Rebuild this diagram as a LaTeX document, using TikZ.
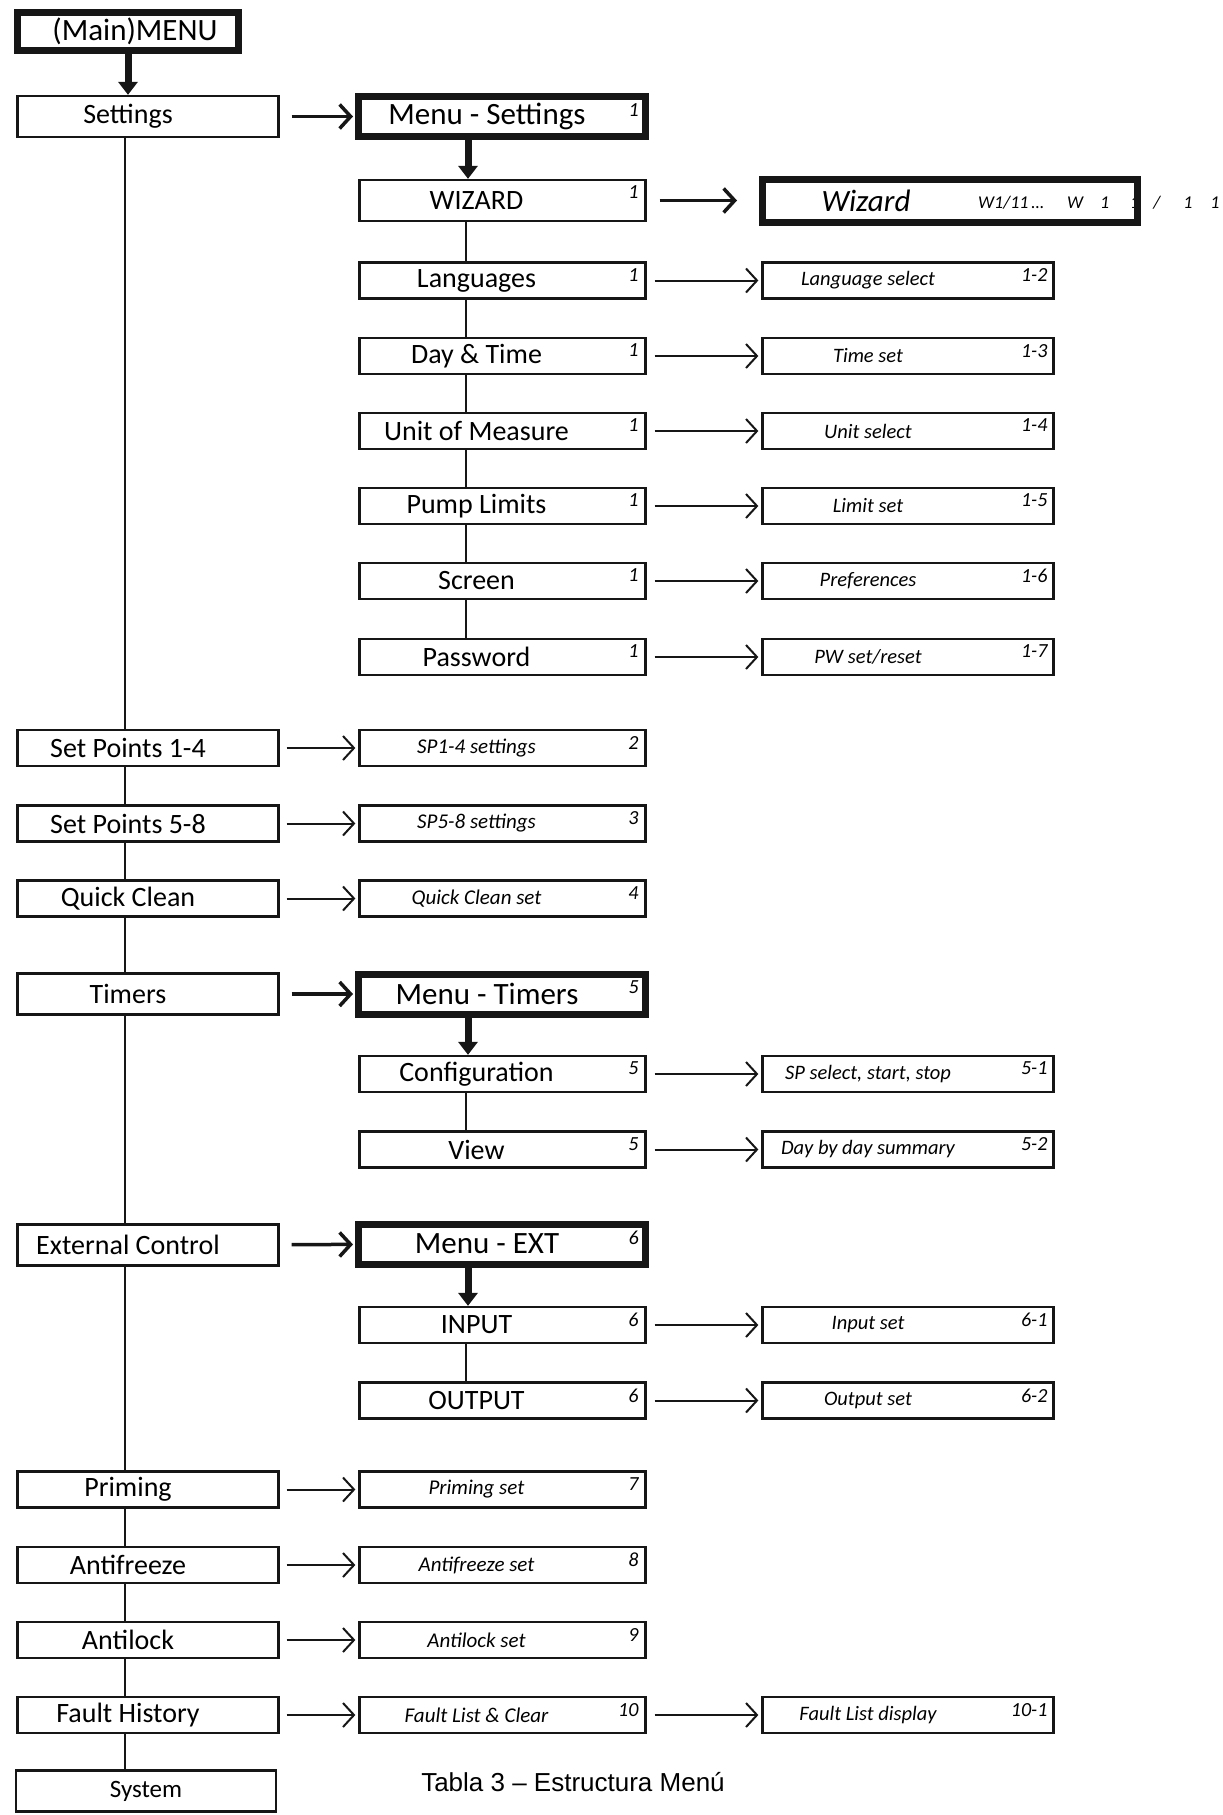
\documentclass[tikz,border=0pt]{standalone}
\usepackage{fontspec}
\setmainfont{Carlito}
\newfontfamily\capfont{Liberation Sans}
\usetikzlibrary{arrows.meta}
\definecolor{boxline}{RGB}{22,22,22}
\tikzset{
  lbox/.style  ={draw=boxline, line width=2.3pt, minimum width=261pt, minimum height=36pt, inner sep=0pt,
                 font=\fontsize{28}{30}\selectfont, execute at end node=\hspace*{40pt}},
  tall/.style  ={minimum height=41pt},
  mbox/.style  ={draw=boxline, line width=2.3pt, minimum width=286pt, minimum height=36pt, inner sep=0pt,
                 font=\fontsize{28}{30}\selectfont, execute at end node=\hspace*{52pt}},
  mibox/.style ={draw=boxline, line width=2.3pt, minimum width=286pt, minimum height=36pt, inner sep=0pt,
                 font=\itshape\fontsize{21}{24}\selectfont, execute at end node=\hspace*{52pt}},
  tbox/.style  ={draw=boxline, line width=7pt, minimum width=287pt, minimum height=40pt, inner sep=0pt,
                 font=\fontsize{31}{33}\selectfont, execute at end node=\hspace*{30pt}},
  rbox/.style  ={draw=boxline, line width=2.3pt, minimum width=291pt, minimum height=36pt, inner sep=0pt,
                 font=\itshape\fontsize{20.5}{24}\selectfont, execute at end node=\hspace*{80pt}},
  topbox/.style={draw=boxline, line width=7pt, minimum width=221pt, minimum height=38pt, inner sep=0pt,
                 font=\fontsize{31}{33}\selectfont, execute at begin node=\hspace*{14pt}},
  wbox/.style  ={draw=boxline, line width=7pt, minimum width=375pt, minimum height=43pt, inner sep=0pt,
                 font=\itshape\fontsize{31}{33}\selectfont, execute at end node=\hspace*{168pt}},
  sysbox/.style={draw=boxline, line width=2.3pt, minimum width=260pt, minimum height=41pt, inner sep=0pt,
                 font=\fontsize{25}{28}\selectfont},
  numl/.style  ={anchor=north east, inner sep=0pt, font=\itshape\fontsize{20}{20}\selectfont},
  vline/.style ={draw=boxline, line width=2pt},
  thn/.style   ={draw=boxline, line width=2pt, shorten <=7pt, shorten >=3pt,
                 -{Straight Barb[length=11pt,width=24pt]}},
  thk/.style   ={draw=boxline, line width=3.5pt, shorten <=12pt, shorten >=2pt,
                 -{Straight Barb[length=11pt,width=24pt]}},
  down/.style  ={draw=boxline, line width=7pt, -{Triangle[length=13pt,width=19pt]}},
}
\begin{document}
\begin{tikzpicture}[x=1pt,y=-1pt]
  \useasboundingbox (0,0) rectangle (1223,1815);
  % left column
  \node[topbox] (menu) at (128,31.5) {(Main)MENU};
  \node[lbox,tall] (set) at (148,116.5) {Settings};
  \node[lbox] (sp14) at (148,748) {Set Points 1-4};
  \node[lbox] (sp58) at (148,823.5) {Set Points 5-8};
  \node[lbox] (qc) at (148,898.5) {Quick Clean};
  \node[lbox,tall] (tim) at (148,994) {Timers};
  \node[lbox,tall] (ext) at (148,1245) {External Control};
  \node[lbox] (prim) at (148,1489.5) {Priming};
  \node[lbox] (anf) at (148,1565) {Antifreeze};
  \node[lbox] (alk) at (148,1640) {Antilock};
  \node[lbox] (fh) at (148,1715) {Fault History};
  \node[sysbox] (sys) at (146,1791) {System};
  % middle column
  \node[tbox] (mset) at (502,116.5) {Menu - Settings};
  \node[mbox,tall] (wiz) at (502.5,200.5) {WIZARD};
  \node[mbox] (lang) at (502.5,280.5) {Languages};
  \node[mbox] (day) at (502.5,356) {Day \& Time};
  \node[mbox] (unit) at (502.5,431) {Unit of Measure};
  \node[mbox] (pump) at (502.5,506) {Pump Limits};
  \node[mbox] (scr) at (502.5,581) {Screen};
  \node[mbox] (pw) at (502.5,657) {Password};
  \node[mibox] (sp14s) at (502.5,748) {SP1-4 settings};
  \node[mibox] (sp58s) at (502.5,823.5) {SP5-8 settings};
  \node[mibox] (qcs) at (502.5,898.5) {Quick Clean set};
  \node[tbox] (mtim) at (502,994) {Menu - Timers};
  \node[mbox] (conf) at (502.5,1074) {Configuration};
  \node[mbox] (view) at (502.5,1149.5) {View};
  \node[tbox] (mext) at (502,1244) {Menu - EXT};
  \node[mbox] (inp) at (502.5,1325) {INPUT};
  \node[mbox] (outp) at (502.5,1400.5) {OUTPUT};
  \node[mibox] (prims) at (502.5,1489.5) {Priming set};
  \node[mibox] (anfs) at (502.5,1565) {Antifreeze set};
  \node[mibox] (alks) at (502.5,1640) {Antilock set};
  \node[mibox] (fls) at (502.5,1715) {Fault List \& Clear};
  % right column
  \node[inner sep=0pt, anchor=west, font=\itshape\fontsize{18}{20}\selectfont] (wzdseq) at (978,203)
    {W1/11\,\ldots\hspace{23pt}W\hspace{17pt}1\hspace{21pt}1\hspace{14pt}/\hspace{23pt}1\hspace{18pt}1};
  \node[wbox] (wzd) at (950,201) {Wizard};
  \node[rbox] (langs) at (908,280.5) {Language select};
  \node[rbox] (days) at (908,356) {Time set};
  \node[rbox] (units) at (908,431) {Unit select};
  \node[rbox] (pumps) at (908,506) {Limit set};
  \node[rbox] (scrs) at (908,581) {Preferences};
  \node[rbox] (pws) at (908,657) {PW set/reset};
  \node[rbox] (confs) at (908,1074) {SP select, start, stop};
  \node[rbox] (views) at (908,1149.5) {Day by day summary};
  \node[rbox] (inps) at (908,1325) {Input set};
  \node[rbox] (outps) at (908,1400.5) {Output set};
  \node[rbox] (fld) at (908,1715) {Fault List display};
  % corner numbers
  \node[numl] (n-mset) at ([shift={(-10pt,-10pt)}]mset.north east) {1};
  \node[numl] (n-wiz) at ([shift={(-8pt,-7pt)}]wiz.north east) {1};
  \node[numl] (n-lang) at ([shift={(-8pt,-7pt)}]lang.north east) {1};
  \node[numl] (n-day) at ([shift={(-8pt,-7pt)}]day.north east) {1};
  \node[numl] (n-unit) at ([shift={(-8pt,-7pt)}]unit.north east) {1};
  \node[numl] (n-pump) at ([shift={(-8pt,-7pt)}]pump.north east) {1};
  \node[numl] (n-scr) at ([shift={(-8pt,-7pt)}]scr.north east) {1};
  \node[numl] (n-pw) at ([shift={(-8pt,-7pt)}]pw.north east) {1};
  \node[numl] (n-sp14s) at ([shift={(-8pt,-7pt)}]sp14s.north east) {2};
  \node[numl] (n-sp58s) at ([shift={(-8pt,-7pt)}]sp58s.north east) {3};
  \node[numl] (n-qcs) at ([shift={(-8pt,-7pt)}]qcs.north east) {4};
  \node[numl] (n-mtim) at ([shift={(-10pt,-10pt)}]mtim.north east) {5};
  \node[numl] (n-conf) at ([shift={(-8pt,-7pt)}]conf.north east) {5};
  \node[numl] (n-view) at ([shift={(-8pt,-7pt)}]view.north east) {5};
  \node[numl] (n-mext) at ([shift={(-10pt,-10pt)}]mext.north east) {6};
  \node[numl] (n-inp) at ([shift={(-8pt,-7pt)}]inp.north east) {6};
  \node[numl] (n-outp) at ([shift={(-8pt,-7pt)}]outp.north east) {6};
  \node[numl] (n-prims) at ([shift={(-8pt,-7pt)}]prims.north east) {7};
  \node[numl] (n-anfs) at ([shift={(-8pt,-7pt)}]anfs.north east) {8};
  \node[numl] (n-alks) at ([shift={(-8pt,-7pt)}]alks.north east) {9};
  \node[numl] (n-fls) at ([shift={(-8pt,-7pt)}]fls.north east) {10};
  \node[numl] (n-langs) at ([shift={(-7pt,-7pt)}]langs.north east) {1-2};
  \node[numl] (n-days) at ([shift={(-7pt,-7pt)}]days.north east) {1-3};
  \node[numl] (n-units) at ([shift={(-7pt,-7pt)}]units.north east) {1-4};
  \node[numl] (n-pumps) at ([shift={(-7pt,-7pt)}]pumps.north east) {1-5};
  \node[numl] (n-scrs) at ([shift={(-7pt,-7pt)}]scrs.north east) {1-6};
  \node[numl] (n-pws) at ([shift={(-7pt,-7pt)}]pws.north east) {1-7};
  \node[numl] (n-confs) at ([shift={(-7pt,-7pt)}]confs.north east) {5-1};
  \node[numl] (n-views) at ([shift={(-7pt,-7pt)}]views.north east) {5-2};
  \node[numl] (n-inps) at ([shift={(-7pt,-7pt)}]inps.north east) {6-1};
  \node[numl] (n-outps) at ([shift={(-7pt,-7pt)}]outps.north east) {6-2};
  \node[numl] (n-fld) at ([shift={(-7pt,-7pt)}]fld.north east) {10-1};
  % caption
  \node[font=\capfont\fontsize{26}{28}\selectfont, inner sep=0pt] (cap) at (573,1782) {Tabla 3 – Estructura Menú};
  % trunk lines
  \draw[vline] ([xshift=-23pt]set.south) -- ([xshift=-23pt]sp14.north);
  \draw[vline] ([xshift=-23pt]sp14.south) -- ([xshift=-23pt]sp58.north);
  \draw[vline] ([xshift=-23pt]sp58.south) -- ([xshift=-23pt]qc.north);
  \draw[vline] ([xshift=-23pt]qc.south) -- ([xshift=-23pt]tim.north);
  \draw[vline] ([xshift=-23pt]tim.south) -- ([xshift=-23pt]ext.north);
  \draw[vline] ([xshift=-23pt]ext.south) -- ([xshift=-23pt]prim.north);
  \draw[vline] ([xshift=-23pt]prim.south) -- ([xshift=-23pt]anf.north);
  \draw[vline] ([xshift=-23pt]anf.south) -- ([xshift=-23pt]alk.north);
  \draw[vline] ([xshift=-23pt]alk.south) -- ([xshift=-23pt]fh.north);
  \draw[vline,line width=1.2pt] ([xshift=-23pt]fh.south) -- ([xshift=-23pt]fh.south |- sys.north);
  \draw[vline] ([xshift=-36.5pt]wiz.south) -- ([xshift=-36.5pt]lang.north);
  \draw[vline] ([xshift=-36.5pt]lang.south) -- ([xshift=-36.5pt]day.north);
  \draw[vline] ([xshift=-36.5pt]day.south) -- ([xshift=-36.5pt]unit.north);
  \draw[vline] ([xshift=-36.5pt]unit.south) -- ([xshift=-36.5pt]pump.north);
  \draw[vline] ([xshift=-36.5pt]pump.south) -- ([xshift=-36.5pt]scr.north);
  \draw[vline] ([xshift=-36.5pt]scr.south) -- ([xshift=-36.5pt]pw.north);
  \draw[vline] ([xshift=-36.5pt]conf.south) -- ([xshift=-36.5pt]view.north);
  \draw[vline] ([xshift=-36.5pt]inp.south) -- ([xshift=-36.5pt]outp.north);
  % down arrows
  \draw[down] (menu.south) -- (menu.south |- set.north);
  \draw[down] ([xshift=-34pt]mset.south) -- ([xshift=-34pt]mset.south |- wiz.north);
  \draw[down] ([xshift=-34pt]mtim.south) -- ([xshift=-34pt]mtim.south |- conf.north);
  \draw[down] ([xshift=-34pt]mext.south) -- ([xshift=-34pt]mext.south |- inp.north);
  % side arrows
  \draw[thk] (set) -- (mset);
  \draw[thk] (tim) -- (mtim);
  \draw[thk] (ext) -- (mext);
  \draw[thk, shorten <=13pt, shorten >=22pt] (wiz) -- (wiz -| wzd.west);
  \draw[thn] (sp14) -- (sp14s);
  \draw[thn] (sp58) -- (sp58s);
  \draw[thn] (qc) -- (qcs);
  \draw[thn] (prim) -- (prims);
  \draw[thn] (anf) -- (anfs);
  \draw[thn] (alk) -- (alks);
  \draw[thn] (fh) -- (fls);
  \draw[thn, shorten <=8pt] (lang) -- (langs);
  \draw[thn, shorten <=8pt] (day) -- (days);
  \draw[thn, shorten <=8pt] (unit) -- (units);
  \draw[thn, shorten <=8pt] (pump) -- (pumps);
  \draw[thn, shorten <=8pt] (scr) -- (scrs);
  \draw[thn, shorten <=8pt] (pw) -- (pws);
  \draw[thn, shorten <=8pt] (conf) -- (confs);
  \draw[thn, shorten <=8pt] (view) -- (views);
  \draw[thn, shorten <=8pt] (inp) -- (inps);
  \draw[thn, shorten <=8pt] (outp) -- (outps);
  \draw[thn, shorten <=8pt] (fls) -- (fld);
\end{tikzpicture}
\end{document}
